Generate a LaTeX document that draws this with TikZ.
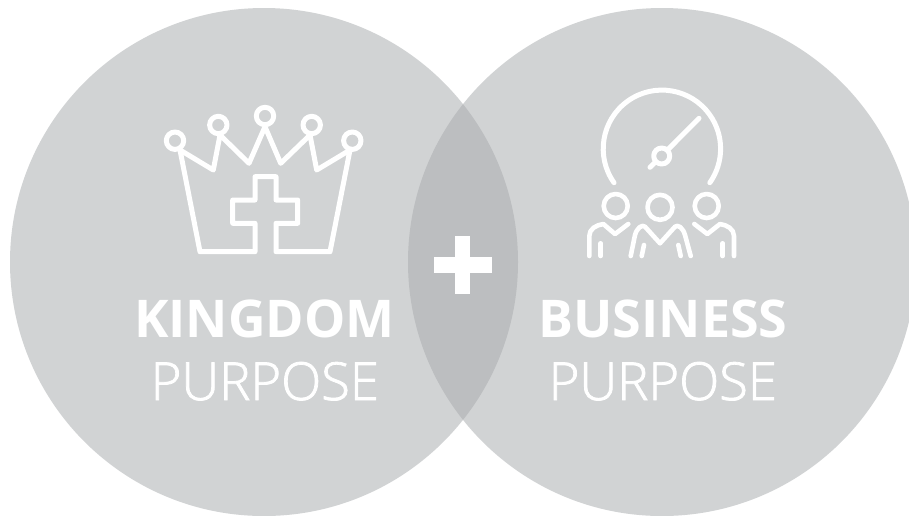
\documentclass[tikz,border=0pt]{standalone}
\usepackage{fontspec}
\setmainfont{Open Sans}
\newfontfamily\oslight[FakeBold=1.5]{Open Sans Light}
\definecolor{disc}{RGB}{209,211,212}
\definecolor{lens}{RGB}{188,190,192}
\tikzset{
  icon/.style={draw=white,line width=5pt,line join=round,line cap=round},
  people/.style={draw=white,line width=4.6pt,line join=round,line cap=round},
  head/.style={font=\fontsize{52}{52}\selectfont\bfseries,text=white,anchor=base,inner sep=0pt},
  sub/.style={font=\fontsize{52.5}{52.5}\selectfont\oslight,text=white,anchor=base,inner sep=0pt}
}
\begin{document}
\begin{tikzpicture}[x=1pt,y=-1pt]
\useasboundingbox (0,0) rectangle (909,515);
\clip (0,0) rectangle (909,515);
\fill[white] (0,0) rectangle (909,515);
\fill[disc] (264,262) circle[radius=254];
\fill[disc] (662,262) circle[radius=254];
\begin{scope}
\clip (264,262) circle[radius=254];
\fill[lens] (662,262) circle[radius=254];
\end{scope}
% plus
\fill[white] (454.8,236) rectangle (470.4,294);
\fill[white] (434,257.3) rectangle (492,272.7);
% crown
\draw[icon] (180,150) -- (213.3,170) -- (220,135) -- (249,163.3) -- (265,126.7) -- (280.7,163.3) -- (310,135) -- (316.7,170) -- (350,150) -- (330,251.7) -- (276,251.7) -- (276,223.3) -- (297.7,223.3) -- (297.7,200) -- (276,200) -- (276,176.7) -- (255,176.7) -- (255,200) -- (232.7,200) -- (232.7,223.3) -- (255,223.3) -- (255,251.7) -- (200,251.7) -- cycle;
\draw[icon] (175,140.7) circle[radius=8.7];
\draw[icon] (218.3,125) circle[radius=8.7];
\draw[icon] (265,116) circle[radius=8.7];
\draw[icon] (311.7,125) circle[radius=8.7];
\draw[icon] (352.3,140.7) circle[radius=8.7];
% gauge
\draw[icon] (614,182.7) arc[start angle=144.7,end angle=395.3,radius=58.7];
\draw[icon] (661.7,156) circle[radius=8];
\draw[icon] (667.5,150) -- (699,118.3);
\draw[icon] (650,167.3) -- (655.5,162);
% people
\draw[people] (615.7,206) circle[radius=12];
\draw[people] (660,207.3) circle[radius=12.5];
\draw[people] (706.7,206) circle[radius=12];
\draw[people] (630.7,256) -- (635,235) .. controls (637,228) and (642,224) .. (645,226.7) -- (660,243.3) -- (675,226.7) .. controls (678,224) and (683,228) .. (685,235) -- (690.7,256);
\draw[people] (644,245) -- (641.7,256);
\draw[people] (678.3,245) -- (680.7,256);
\draw[people] (589.3,256) -- (589.3,236) .. controls (589.3,229) and (596,225) .. (603.3,224) -- (615,234) -- (628.3,224);
\draw[people] (600.7,243.3) -- (600.7,256);
\draw[people] (734,256) -- (734,236) .. controls (734,229) and (727,225) .. (720,224) -- (707.3,234) -- (694.3,224);
\draw[people] (722.7,243.3) -- (722.7,256);
% labels
\node[head] (k) at (264.5,337.3) {KINGDOM};
\node[sub] (kp) at (264.8,400) {PURPOSE};
\node[head] (b) at (663,337.3) {BUSINESS};
\node[sub] (bp) at (662.8,400) {PURPOSE};
\end{tikzpicture}
\end{document}
